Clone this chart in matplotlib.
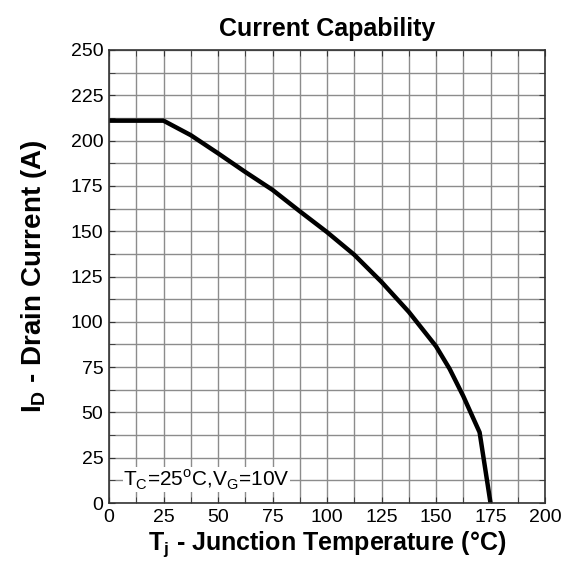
import matplotlib
matplotlib.use("Agg")
import matplotlib.pyplot as plt
from matplotlib.ticker import MultipleLocator

plt.rcParams['font.family'] = ['Liberation Sans', 'DejaVu Sans']
plt.rcParams['mathtext.fontset'] = 'custom'
plt.rcParams['mathtext.rm'] = 'Liberation Sans'
plt.rcParams['mathtext.bf'] = 'Liberation Sans:bold'

# junction temperature (C) vs drain current (A)
temp = [0, 25, 37.5, 50, 62.5, 75, 87.5, 100, 112.5, 125, 137.5, 150, 156.25, 162.5, 170, 175]
current = [211, 211, 203, 193, 182.7, 172.8, 161, 149.5, 137, 122, 105.5, 86.5, 74, 59, 39, 0]

fig = plt.figure(figsize=(5.69, 5.63), dpi=100)
ax = fig.add_axes([109 / 569, 60 / 563, 436 / 569, 453 / 563])

ax.plot(temp, current, color="black", linewidth=3.2, solid_joinstyle="round")

ax.set_xlim(0, 200)
ax.set_ylim(0, 250)
ax.xaxis.set_major_locator(MultipleLocator(25))
ax.yaxis.set_major_locator(MultipleLocator(25))
ax.xaxis.set_minor_locator(MultipleLocator(12.5))
ax.yaxis.set_minor_locator(MultipleLocator(12.5))
ax.grid(True, which="both", color="#8c8c8c", linewidth=1.0)
ax.set_axisbelow(True)
ax.tick_params(which="both", direction="in", length=4, top=True, right=True,
               labelsize=14, colors="#333333", labelcolor="black", pad=4)
for s in ax.spines.values():
    s.set_color("#333333")
    s.set_linewidth(1.2)

ax.set_title("Current Capability", fontsize=18, fontweight="bold", pad=10)
ax.set_xlabel(r"T$_\mathregular{j}$ - Junction Temperature (°C)", fontsize=18,
              fontweight="bold", labelpad=3)
ax.set_ylabel(r"I$_\mathregular{D}$ - Drain Current (A)", fontsize=20,
              fontweight="bold", labelpad=16)

ax.text(6.4, 13, r"T$_\mathregular{C}$=25$^\mathregular{o}$C,V$_\mathregular{G}$=10V",
        fontsize=15, va="center", ha="left",
        bbox=dict(facecolor="white", edgecolor="none", pad=0.3))

fig.savefig("out.png", dpi=100)
